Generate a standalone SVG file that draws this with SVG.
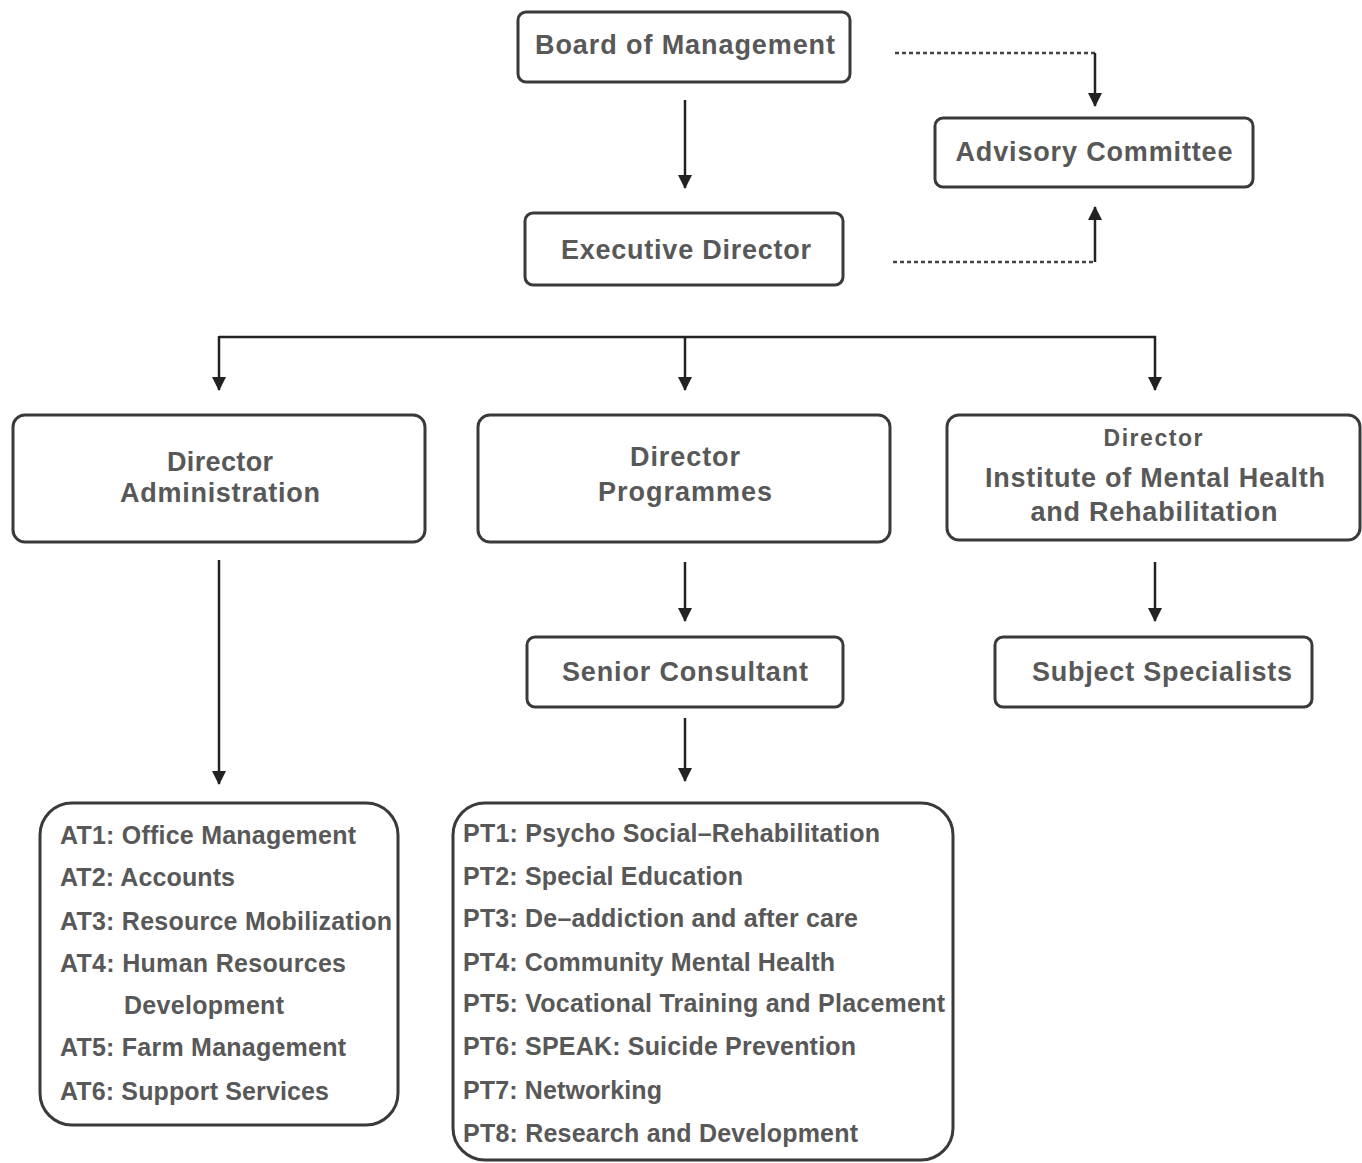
<svg xmlns="http://www.w3.org/2000/svg" width="1362" height="1163" viewBox="0 0 1362 1163">
<defs>
<marker id="ah" viewBox="0 0 14 14" refX="13" refY="7" markerWidth="14" markerHeight="14" markerUnits="userSpaceOnUse" orient="auto">
<path d="M0,0 L14,7 L0,14 Z" fill="#222"/>
</marker>
<style>
.box{fill:#fff;stroke:#3a3a3a;stroke-width:3}
.t{font-family:"Liberation Sans",Arial,sans-serif;font-weight:bold;fill:#585858;font-size:27px}
.c{text-anchor:middle}
.l{font-size:25px}
.s{font-size:23px}
.ln{fill:none;stroke:#222;stroke-width:2.5}
.dl{fill:none;stroke:#444;stroke-width:2.5;stroke-dasharray:4 3}
</style>
</defs>
<rect width="1362" height="1163" fill="#fff"/>
<g id="connectors">
<line class="ln" x1="685" y1="100" x2="685" y2="188" marker-end="url(#ah)"/>
<polyline class="dl" points="895,53 1095,53"/>
<line class="ln" x1="1095" y1="53" x2="1095" y2="106" marker-end="url(#ah)"/>
<polyline class="dl" points="893,262 1095,262"/>
<line class="ln" x1="1095" y1="262" x2="1095" y2="207" marker-end="url(#ah)"/>
<polyline class="ln" points="219,337 1155,337 1155,390" marker-end="url(#ah)"/>
<line class="ln" x1="219" y1="336" x2="219" y2="390" marker-end="url(#ah)"/>
<line class="ln" x1="685" y1="337" x2="685" y2="390" marker-end="url(#ah)"/>
<line class="ln" x1="219" y1="560" x2="219" y2="784" marker-end="url(#ah)"/>
<line class="ln" x1="685" y1="562" x2="685" y2="621" marker-end="url(#ah)"/>
<line class="ln" x1="1155" y1="562" x2="1155" y2="621" marker-end="url(#ah)"/>
<line class="ln" x1="685" y1="718" x2="685" y2="781" marker-end="url(#ah)"/>
</g>
<g id="board">
<rect class="box" x="518" y="12" width="332" height="70" rx="8"/>
<text class="t c" x="685" y="54" textLength="300">Board of Management</text>
</g>
<g id="exec">
<rect class="box" x="525" y="213" width="318" height="72" rx="8"/>
<text class="t c" x="686" y="259" textLength="250">Executive Director</text>
</g>
<g id="advisory">
<rect class="box" x="935" y="118" width="318" height="69" rx="8"/>
<text class="t c" x="1094" y="161" textLength="277">Advisory Committee</text>
</g>
<g id="dir-admin">
<rect class="box" x="13" y="415" width="412" height="127" rx="12"/>
<text class="t c" x="220" y="471" textLength="106">Director</text>
<text class="t c" x="220" y="502" textLength="200">Administration</text>
</g>
<g id="dir-prog">
<rect class="box" x="478" y="415" width="412" height="127" rx="12"/>
<text class="t c" x="685" y="466" textLength="110">Director</text>
<text class="t c" x="685" y="501" textLength="174">Programmes</text>
</g>
<g id="dir-inst">
<rect class="box" x="947" y="415" width="413" height="125" rx="12"/>
<text class="t c s" x="1153" y="446" textLength="99">Director</text>
<text class="t c" x="1155" y="487" textLength="340">Institute of Mental Health</text>
<text class="t c" x="1154" y="521" textLength="247">and Rehabilitation</text>
</g>
<g id="senior">
<rect class="box" x="527" y="637" width="316" height="70" rx="8"/>
<text class="t c" x="685" y="681" textLength="246">Senior Consultant</text>
</g>
<g id="subject">
<rect class="box" x="995" y="637" width="317" height="70" rx="8"/>
<text class="t c" x="1162" y="681" textLength="260">Subject Specialists</text>
</g>
<g id="at-list">
<rect class="box" x="40" y="803" width="358" height="322" rx="32"/>
<text class="t l" x="60" y="844" textLength="296">AT1: Office Management</text>
<text class="t l" x="60" y="886" textLength="175">AT2: Accounts</text>
<text class="t l" x="60" y="930" textLength="332">AT3: Resource Mobilization</text>
<text class="t l" x="60" y="972" textLength="286">AT4: Human Resources</text>
<text class="t l" x="124" y="1014" textLength="160">Development</text>
<text class="t l" x="60" y="1056" textLength="286">AT5: Farm Management</text>
<text class="t l" x="60" y="1100" textLength="269">AT6: Support Services</text>
</g>
<g id="pt-list">
<rect class="box" x="453" y="803" width="500" height="357" rx="32"/>
<text class="t l" x="463" y="842" textLength="417">PT1: Psycho Social–Rehabilitation</text>
<text class="t l" x="463" y="885" textLength="280">PT2: Special Education</text>
<text class="t l" x="463" y="927" textLength="395">PT3: De–addiction and after care</text>
<text class="t l" x="463" y="971" textLength="372">PT4: Community Mental Health</text>
<text class="t l" x="463" y="1012" textLength="482">PT5: Vocational Training and Placement</text>
<text class="t l" x="463" y="1055" textLength="393">PT6: SPEAK: Suicide Prevention</text>
<text class="t l" x="463" y="1099" textLength="199">PT7: Networking</text>
<text class="t l" x="463" y="1142" textLength="395">PT8: Research and Development</text>
</g>
</svg>
